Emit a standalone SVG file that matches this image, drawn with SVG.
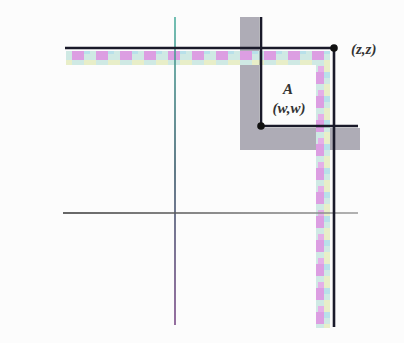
<svg xmlns="http://www.w3.org/2000/svg" width="404" height="343" viewBox="0 0 404 343">
<defs>
<pattern id="chk" x="0" y="0" width="24" height="24" patternUnits="userSpaceOnUse">
<rect width="24" height="24" fill="#cfe9e4"/>
<rect x="0" y="0" width="12" height="12" fill="#dc9ee2"/>
<rect x="12" y="12" width="12" height="12" fill="#e8eec8"/>
<rect x="12" y="0" width="6" height="6" fill="#b8e0ea"/>
<rect x="6" y="18" width="6" height="6" fill="#e4b0e8"/>
</pattern>
<linearGradient id="vg" gradientUnits="userSpaceOnUse" x1="175" y1="17" x2="175" y2="325">
<stop offset="0" stop-color="#4fb0a0"/>
<stop offset="0.5" stop-color="#3a5a6a"/>
<stop offset="1" stop-color="#7a4a88"/>
</linearGradient>
<linearGradient id="hg" gradientUnits="userSpaceOnUse" x1="63" y1="213" x2="358" y2="213">
<stop offset="0" stop-color="#333"/>
<stop offset="1" stop-color="#999"/>
</linearGradient>
<style>
.blk{stroke:#1a1a2a;stroke-width:2.6;fill:none}
.lbl{font-family:"Liberation Serif",serif;font-style:italic;font-weight:bold;font-size:15px;fill:#333}
</style>
</defs>
<rect width="404" height="343" fill="#fcfcfc"/>
<g id="gray-band">
<polygon points="240,17 259,17 259,128 360,128 360,150 240,150" fill="#aeacb6"/>
</g>
<g id="color-band">
<path d="M66,51 H330 V328 H316 V65 H66 Z" fill="url(#chk)"/>
</g>
<g id="axes">
<line x1="175" y1="17" x2="175" y2="325" stroke="url(#vg)" stroke-width="1.6"/>
<line x1="63" y1="213" x2="358" y2="213" stroke="url(#hg)" stroke-width="1.6"/>
</g>
<g id="connectors">
<polyline class="blk" points="65,48 334,48 334,327"/>
<polyline class="blk" points="261,17 261,126 358,126"/>
</g>
<g id="node-z">
<circle cx="334" cy="48" r="3.8" fill="#111"/>
<text class="lbl" x="351" y="54">(z,z)</text>
</g>
<g id="node-w">
<circle cx="261" cy="126" r="3.8" fill="#111"/>
<text class="lbl" x="288" y="94" text-anchor="middle">A</text>
<text class="lbl" x="289" y="113" text-anchor="middle">(w,w)</text>
</g>
</svg>
